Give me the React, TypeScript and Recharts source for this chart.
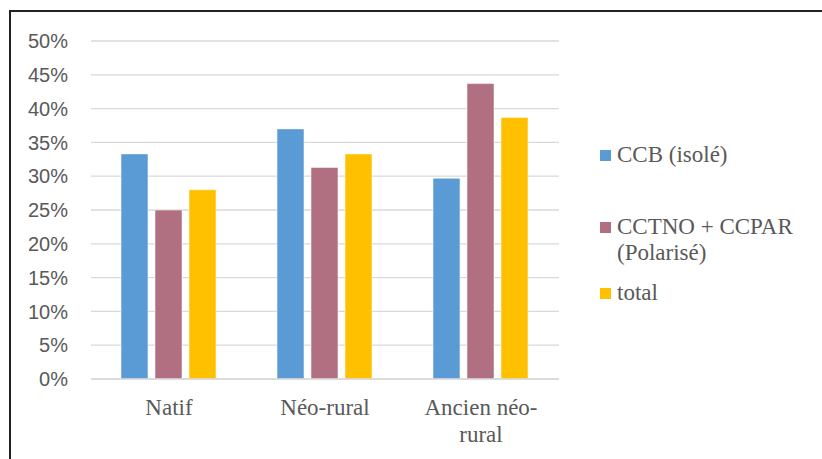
import { BarChart, Bar, XAxis, YAxis, CartesianGrid, Legend } from 'recharts';

// Valeurs (en %)
const categories = ['Natif', 'Néo-rural', 'Ancien néo-rural'];
const ccbValues = [33.3, 37.0, 29.7];
const polariseValues = [25.0, 31.3, 43.7];
const totalValues = [28.0, 33.3, 38.7];
const yTicks = [0, 5, 10, 15, 20, 25, 30, 35, 40, 45, 50];

const seriesNames = ['CCB (isolé)', 'CCTNO + CCPAR (Polarisé)', 'total'];
const seriesColors = ['#5B9BD5', '#B07081', '#FFC000'];

const data = categories.map((cat, i) => ({
  cat,
  ccb: ccbValues[i],
  polarise: polariseValues[i],
  total: totalValues[i],
}));

const TEXT_COLOR = '#595959';
const SERIF = '"Times New Roman", "Liberation Serif", "DejaVu Serif", "Noto Serif", Times, serif';

// Coupe le libellé après un espace ou un trait d'union (comme Excel)
function wrapLabel(label: string, maxChars: number) {
  const tokens = label.match(/[^\s-]+-?\s*/g) || [label];
  const lines: string[] = [];
  let current = '';
  tokens.forEach(tok => {
    if (current && (current + tok).trim().length > maxChars) {
      lines.push(current.trim());
      current = tok;
    } else {
      current += tok;
    }
  });
  if (current) lines.push(current.trim());
  return lines;
}

function CategoryTick(props: any) {
  const { x, y, payload } = props;
  const lines = wrapLabel(payload.value, 11);
  return (
    <text x={x} y={y} textAnchor="middle" fill={TEXT_COLOR} style={{ fontFamily: SERIF, fontSize: 23 }}>
      {lines.map((line, i) => (
        <tspan key={i} x={x} y={y + 36 + i * 27}>{line}</tspan>
      ))}
    </text>
  );
}

function LegendContent(props: any) {
  const { payload = [] } = props;
  const gaps = [0, 46, 14];
  return (
    <div style={{ fontFamily: SERIF, fontSize: 23, color: TEXT_COLOR, lineHeight: '26px' }}>
      {payload.map((entry: any, i: number) => (
        <div key={i} style={{ display: 'flex', alignItems: 'flex-start', marginTop: gaps[i] ?? 14 }}>
          <span style={{ width: 11, height: 11, background: entry.color, marginTop: 8, marginRight: 6, flexShrink: 0 }} />
          <span style={{ width: 200, fontFamily: SERIF }}>{entry.value}</span>
        </div>
      ))}
    </div>
  );
}

export default function App() {
  return (
    <div style={{ position: 'fixed', left: 0, top: 0, width: 822, height: 459, overflow: 'hidden', background: '#fff' }}>
      <div style={{ position: 'absolute', left: 9, top: 10, width: 900, height: 600, border: '2px solid #222', boxSizing: 'border-box' }} />
      <BarChart
        width={822}
        height={459}
        data={data}
        margin={{ top: 41, right: 263, left: 0, bottom: 0 }}
        barCategoryGap={30}
        barGap={7}
      >
        <CartesianGrid vertical={false} stroke="#D9D9D9" strokeWidth={1.3} />
        <XAxis
          dataKey="cat"
          height={80}
          tick={<CategoryTick />}
          tickLine={false}
          tickSize={0}
          tickMargin={0}
          interval={0}
          axisLine={{ stroke: '#D9D9D9', strokeWidth: 1.3 }}
        />
        <YAxis
          width={91}
          domain={[0, 50]}
          ticks={yTicks}
          interval={0}
          tickFormatter={(v) => `${v}%`}
          tick={{ fill: TEXT_COLOR, fontSize: 20, fontFamily: 'Liberation Sans, Arial, sans-serif' }}
          axisLine={false}
          tickLine={false}
          tickSize={0}
          tickMargin={23}
        />
        <Legend
          layout="vertical"
          align="center"
          verticalAlign="middle"
          content={<LegendContent />}
          wrapperStyle={{ left: 600, top: 142, width: 222 }}
        />
        <Bar dataKey="ccb" name={seriesNames[0]} fill={seriesColors[0]} stroke="#fff" strokeOpacity={0.5} isAnimationActive={false} />
        <Bar dataKey="polarise" name={seriesNames[1]} fill={seriesColors[1]} stroke="#fff" strokeOpacity={0.5} isAnimationActive={false} />
        <Bar dataKey="total" name={seriesNames[2]} fill={seriesColors[2]} stroke="#fff" strokeOpacity={0.5} isAnimationActive={false} />
      </BarChart>
    </div>
  );
}
